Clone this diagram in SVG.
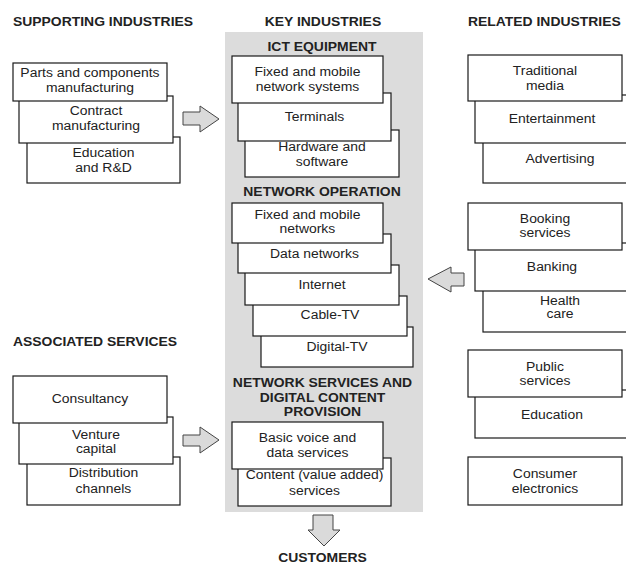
<svg xmlns="http://www.w3.org/2000/svg" width="626" height="566" viewBox="0 0 626 566">
<style>
  .bg { fill: #ffffff; }
  .panel { fill: #dcdcdc; stroke: none; }
  .box { fill: #ffffff; stroke: #1a1a1a; stroke-width: 1.2; }
  .arrow { fill: #dadada; stroke: #444444; stroke-width: 1; stroke-linejoin: miter; }
  text { font-family: "Liberation Sans", Arial, sans-serif; font-size: 12px; fill: #222222;
         transform-box: fill-box; transform: scaleX(1.16); }
  .t { text-anchor: middle; transform-origin: center; }
  .h { font-weight: bold; text-anchor: middle; transform-origin: center; }
  .hl { font-weight: bold; text-anchor: start; transform-origin: left center; }
</style>
<rect class="bg" x="0" y="0" width="626" height="566"/>

<g id="supporting-industries">
  <text class="hl" x="13" y="26">SUPPORTING INDUSTRIES</text>
  <g id="education-rd">
    <rect class="box" x="27" y="137" width="153" height="46"/>
    <text class="t" x="103.5" y="157">Education</text>
    <text class="t" x="103.5" y="172">and R&amp;D</text>
  </g>
  <g id="contract-manufacturing">
    <rect class="box" x="19" y="96" width="154" height="47"/>
    <text class="t" x="96" y="115">Contract</text>
    <text class="t" x="96" y="130">manufacturing</text>
  </g>
  <g id="parts-components">
    <rect class="box" x="13" y="63" width="154" height="38"/>
    <text class="t" x="90" y="77">Parts and components</text>
    <text class="t" x="90" y="92">manufacturing</text>
  </g>
</g>

<g id="key-industries">
  <text class="h" x="323" y="26">KEY INDUSTRIES</text>
  <rect class="panel" x="225" y="32" width="198" height="480"/>
  <text class="h" x="322" y="51">ICT EQUIPMENT</text>
  <g id="hardware-software">
    <rect class="box" x="245" y="130" width="154" height="47"/>
    <text class="t" x="322" y="151">Hardware and</text>
    <text class="t" x="322" y="166">software</text>
  </g>
  <g id="terminals">
    <rect class="box" x="238" y="93" width="153" height="48"/>
    <text class="t" x="314.5" y="121">Terminals</text>
  </g>
  <g id="network-systems">
    <rect class="box" x="232" y="56" width="151" height="47"/>
    <text class="t" x="307.5" y="76">Fixed and mobile</text>
    <text class="t" x="307.5" y="91">network systems</text>
  </g>

  <text class="h" x="322" y="196">NETWORK OPERATION</text>
  <g id="digital-tv">
    <rect class="box" x="261" y="327" width="152" height="40"/>
    <text class="t" x="337" y="351">Digital-TV</text>
  </g>
  <g id="cable-tv">
    <rect class="box" x="253" y="296" width="154" height="40"/>
    <text class="t" x="330" y="319">Cable-TV</text>
  </g>
  <g id="internet">
    <rect class="box" x="245" y="265" width="154" height="40"/>
    <text class="t" x="322" y="289">Internet</text>
  </g>
  <g id="data-networks">
    <rect class="box" x="238" y="234" width="153" height="39"/>
    <text class="t" x="314.5" y="258">Data networks</text>
  </g>
  <g id="fixed-mobile-networks">
    <rect class="box" x="232" y="203" width="151" height="40"/>
    <text class="t" x="307.5" y="219">Fixed and mobile</text>
    <text class="t" x="307.5" y="233">networks</text>
  </g>

  <text class="h" x="322.5" y="387">NETWORK SERVICES AND</text>
  <text class="h" x="322.5" y="402">DIGITAL CONTENT</text>
  <text class="h" x="322.5" y="416">PROVISION</text>
  <g id="content-services">
    <rect class="box" x="238" y="458" width="153" height="48"/>
    <text class="t" x="314.5" y="479">Content (value added)</text>
    <text class="t" x="314.5" y="495">services</text>
  </g>
  <g id="basic-voice-data">
    <rect class="box" x="232" y="422" width="151" height="47"/>
    <text class="t" x="307.5" y="442">Basic voice and</text>
    <text class="t" x="307.5" y="457">data services</text>
  </g>
</g>

<g id="customers">
  <text class="h" x="322.5" y="562">CUSTOMERS</text>
</g>

<g id="related-industries">
  <text class="hl" x="468" y="26">RELATED INDUSTRIES</text>
  <g id="advertising">
    <rect class="box" x="483" y="137" width="154" height="46"/>
    <text class="t" x="560" y="163">Advertising</text>
  </g>
  <g id="entertainment">
    <rect class="box" x="475" y="95" width="154" height="48"/>
    <text class="t" x="552" y="123">Entertainment</text>
  </g>
  <g id="traditional-media">
    <rect class="box" x="468" y="55" width="154" height="46"/>
    <text class="t" x="545" y="75">Traditional</text>
    <text class="t" x="545" y="90">media</text>
  </g>

  <g id="health-care">
    <rect class="box" x="483" y="285" width="154" height="47"/>
    <text class="t" x="560" y="305">Health</text>
    <text class="t" x="560" y="318">care</text>
  </g>
  <g id="banking">
    <rect class="box" x="475" y="243" width="154" height="48"/>
    <text class="t" x="552" y="271">Banking</text>
  </g>
  <g id="booking-services">
    <rect class="box" x="468" y="203" width="154" height="47"/>
    <text class="t" x="545" y="223">Booking</text>
    <text class="t" x="545" y="237">services</text>
  </g>

  <g id="education">
    <rect class="box" x="475" y="390" width="154" height="48"/>
    <text class="t" x="552" y="419">Education</text>
  </g>
  <g id="public-services">
    <rect class="box" x="468" y="350" width="154" height="47"/>
    <text class="t" x="545" y="371">Public</text>
    <text class="t" x="545" y="385">services</text>
  </g>

  <g id="consumer-electronics">
    <rect class="box" x="468" y="457" width="154" height="48"/>
    <text class="t" x="545" y="478">Consumer</text>
    <text class="t" x="545" y="493">electronics</text>
  </g>
</g>

<g id="associated-services">
  <text class="hl" x="13" y="346">ASSOCIATED SERVICES</text>
  <g id="distribution-channels">
    <rect class="box" x="27" y="457" width="153" height="48"/>
    <text class="t" x="103.5" y="477">Distribution</text>
    <text class="t" x="103.5" y="493">channels</text>
  </g>
  <g id="venture-capital">
    <rect class="box" x="19" y="417" width="154" height="47"/>
    <text class="t" x="96" y="439">Venture</text>
    <text class="t" x="96" y="453">capital</text>
  </g>
  <g id="consultancy">
    <rect class="box" x="13" y="376" width="154" height="47"/>
    <text class="t" x="90" y="403">Consultancy</text>
  </g>
</g>

<g id="connectors">
  <polygon class="arrow" points="183,112 200,112 200,106 219,119 200,132 200,125 183,125"/>
  <polygon class="arrow" points="183,435 200,435 200,427 219,440 200,453 200,446 183,446"/>
  <polygon class="arrow" points="464,273 451,273 451,267 428,279 451,292 451,286 464,286"/>
  <polygon class="arrow" points="313,515 333,515 333,530 340,530 324,546 308,530 313,530"/>
</g>
</svg>
